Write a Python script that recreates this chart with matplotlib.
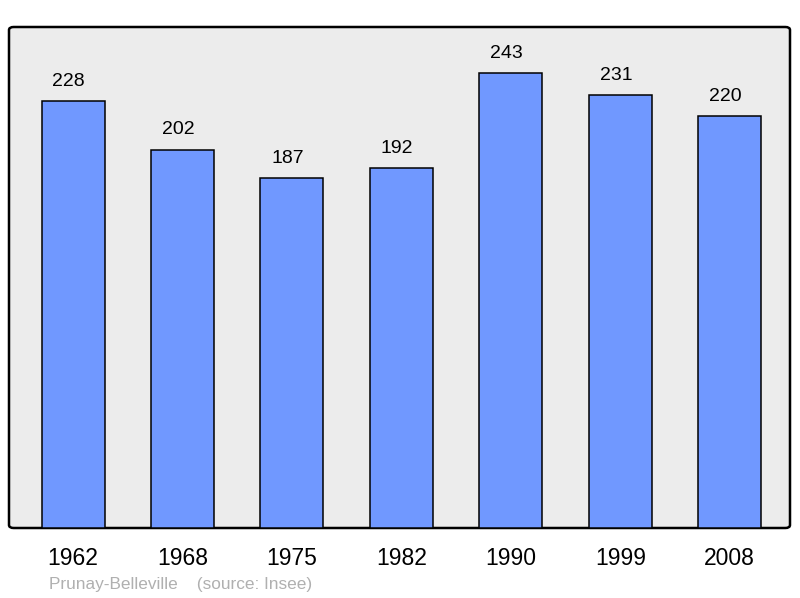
import matplotlib.pyplot as plt
from matplotlib.patches import FancyBboxPatch

# -------- DATA -------- #
years = ["1962", "1968", "1975", "1982", "1990", "1999", "2008"]
population = [228, 202, 187, 192, 243, 231, 220]
caption = "Prunay-Belleville    (source: Insee)"

plt.rcParams['font.family'] = ['Liberation Sans', 'DejaVu Sans']

fig = plt.figure(figsize=(8, 5.98), dpi=100)
ax = fig.add_axes([9/800, 70/598, 781/800, 501/598])
ax.set_facecolor("none")

# rounded grey frame
frame = FancyBboxPatch((0, 0), 1, 1, boxstyle="round,pad=0,rounding_size=0.006",
                       transform=ax.transAxes, facecolor="#ececec",
                       edgecolor="black", linewidth=1.8, zorder=0, clip_on=False)
ax.add_patch(frame)

x = range(len(years))
bars = ax.bar(x, population, width=0.575, color="#7098ff",
              edgecolor="black", linewidth=1.1, zorder=2)

# value labels sit a little left of the bar centre, like the original
for xi, v in zip(x, population):
    ax.text(xi - 0.04, v + 6, str(v), ha="center", va="bottom", fontsize=14)

ax.set_xlim(-0.585, 6.55)
ax.set_ylim(0, 267.5)
ax.set_xticks(list(x))
ax.set_xticklabels(years, fontsize=16.5)
ax.tick_params(axis="x", length=0, pad=14)
ax.set_yticks([])
for s in ax.spines.values():
    s.set_visible(False)

fig.text(49/800, 1 - 584/598, caption, fontsize=12.4, color="#b0b0b0",
         ha="left", va="center")

fig.savefig("out.png", dpi=100)
